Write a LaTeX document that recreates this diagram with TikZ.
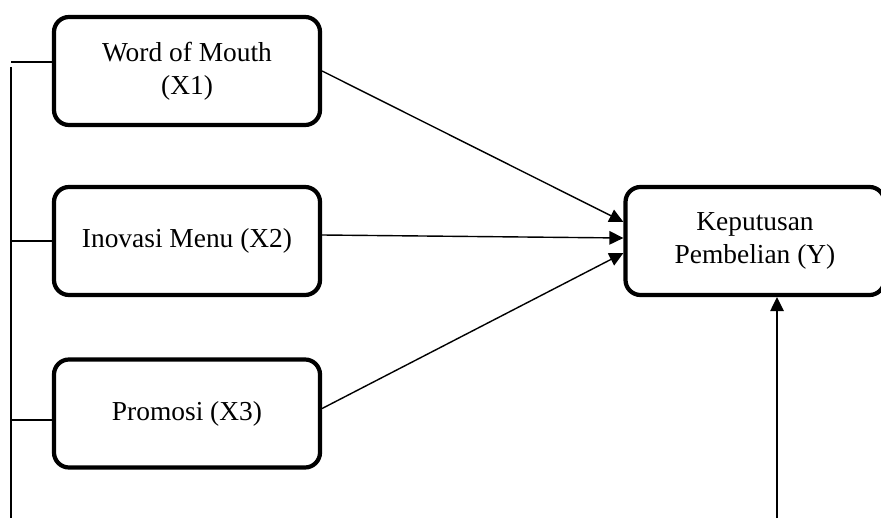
\documentclass[tikz,border=0pt]{standalone}
\usepackage{fontspec}
\setmainfont{Liberation Serif}
\usetikzlibrary{arrows.meta}

\begin{document}
\begin{tikzpicture}[
    varbox/.style={draw, line width=2.4pt, rounded corners=0.3cm, align=center,
        font=\fontsize{15.6}{19}\selectfont},
    link/.style={line width=0.8pt, -{Triangle[length=0.28cm,width=0.27cm]}},
    bar/.style={line width=0.8pt}
]

    % --- Fix the page size ---
    \useasboundingbox (0,0) rectangle (17.62,10.36);

    % --- Define Coordinates ---
    % Left edge of the bracket line
    \coordinate (bartop) at (0.22,9.02);
    \coordinate (barbot) at (0.22,0);

    % Foot of the arrow coming up from below
    \coordinate (base) at (15.54,0);

    % --- Place Boxes ---
    % Independent variables on the left
    \node[varbox, minimum width=5.32cm, minimum height=2.16cm] (X1) at (3.74,8.94) {Word of Mouth\\(X1)};
    \node[varbox, minimum width=5.32cm, minimum height=2.16cm] (X2) at (3.74,5.54) {Inovasi Menu (X2)};
    \node[varbox, minimum width=5.32cm, minimum height=2.16cm] (X3) at (3.74,2.09) {Promosi (X3)};

    % Dependent variable on the right, running off the page edge
    \node[varbox, minimum width=5.18cm, minimum height=2.16cm] (Y) at (15.1,5.54) {Keputusan\\Pembelian (Y)};

    % --- Draw Lines ---
    % Bracket on the left, joined to each box
    \draw[bar] (bartop) -- (barbot);
    \draw[bar] ([yshift=0.18cm]X1.west) -- ([yshift=0.18cm]X1.west -| bartop);
    \draw[bar] (X2.west) -- (X2.west -| bartop);
    \draw[bar] ([yshift=-0.13cm]X3.west) -- ([yshift=-0.13cm]X3.west -| bartop);

    % Arrows into Y
    \draw[link] (X1.east) -- ([yshift=0.38cm]Y.west);
    \draw[link] ([yshift=0.12cm]X2.east) -- ([yshift=0.06cm]Y.west);
    \draw[link] ([yshift=0.1cm]X3.east) -- ([yshift=-0.24cm]Y.west);

    % Arrow up from the bottom edge
    \draw[link] (base) -- (base |- Y.south);

\end{tikzpicture}
\end{document}
